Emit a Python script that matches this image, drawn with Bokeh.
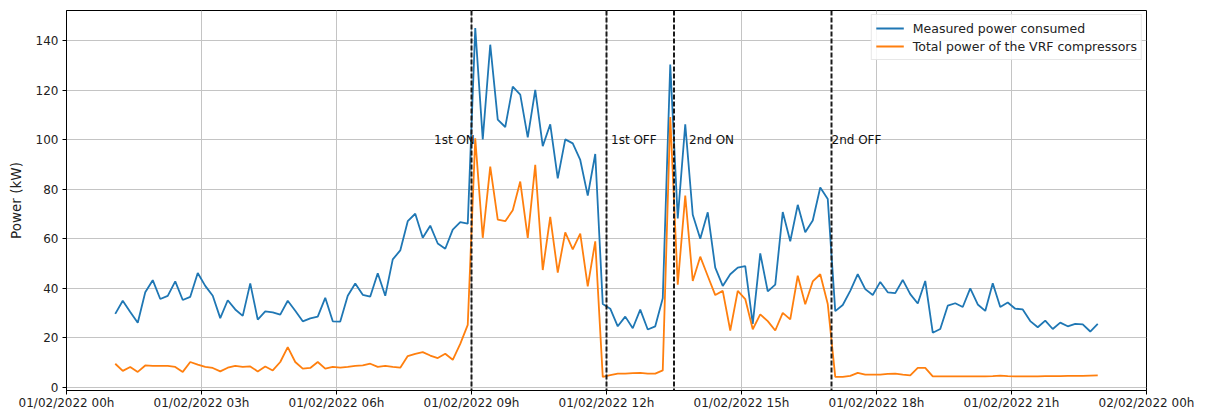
import pandas as pd
from bokeh.plotting import figure
from bokeh.models import (ColumnDataSource, Range1d, FixedTicker,
                          DatetimeTickFormatter, Span)
from bokeh.core.properties import value
from bokeh.embed import file_html
from bokeh.resources import INLINE

# ---------------- data ----------------
start_time = "2022-02-01 01:05"
sample_step = "10min"

measured_kw = [
    29.7, 35.0, 30.5, 26.1, 38.4, 43.3, 35.7, 37.0, 42.8, 35.3,
    36.6, 46.2, 41.0, 37.0, 28.0, 35.2, 31.5, 28.9, 42.0, 27.4,
    30.7, 30.3, 29.4, 35.0, 31.0, 26.7, 27.9, 28.6, 36.2, 26.7,
    26.6, 37.0, 42.0, 37.4, 36.7, 46.1, 37.0, 51.7, 55.3, 67.1,
    70.1, 60.4, 65.3, 58.1, 56.0, 63.7, 66.7, 66.1, 145.0, 100.1,
    138.3, 108.1, 105.1, 121.4, 118.2, 100.9, 120.1, 97.4, 106.2, 84.4,
    100.1, 98.5, 91.8, 77.4, 94.2, 33.7, 31.8, 24.7, 28.6, 23.9,
    31.4, 23.4, 24.7, 36.0, 130.3, 68.2, 106.2, 69.7, 60.0, 70.7,
    48.4, 41.0, 45.7, 48.4, 49.0, 25.7, 54.1, 38.8, 41.5, 70.8,
    59.0, 73.7, 62.6, 67.4, 80.7, 76.1, 30.8, 33.3, 39.0, 45.7,
    39.7, 37.3, 42.6, 38.4, 38.1, 43.4, 37.7, 33.9, 43.0, 22.1,
    23.6, 33.0, 34.0, 32.5, 40.0, 33.5, 30.9, 42.1, 32.5, 34.3,
    31.8, 31.5, 26.8, 24.3, 27.0, 23.6, 26.2, 24.7, 25.7, 25.5,
    22.6, 25.7,
]

compressors_kw = [
    9.6, 6.7, 8.3, 6.3, 8.9, 8.7, 8.7, 8.7, 8.3, 6.3,
    10.3, 9.2, 8.3, 7.9, 6.5, 8.0, 8.7, 8.3, 8.5, 6.5,
    8.5, 6.9, 10.3, 16.3, 10.3, 7.6, 7.9, 10.3, 7.6, 8.3,
    8.0, 8.3, 8.7, 8.9, 9.6, 8.3, 8.7, 8.3, 8.0, 12.7,
    13.6, 14.3, 12.9, 11.9, 13.6, 11.2, 17.6, 25.3, 100.5, 60.4,
    89.1, 67.7, 67.1, 71.5, 83.1, 60.4, 89.8, 47.4, 68.8, 46.4,
    62.6, 55.7, 62.1, 40.8, 59.0, 4.3, 5.0, 5.6, 5.6, 5.8,
    5.9, 5.6, 5.6, 6.9, 109.1, 41.5, 77.4, 43.0, 52.8, 45.0,
    37.3, 39.0, 23.0, 39.0, 35.7, 23.5, 29.5, 26.8, 23.0, 30.1,
    27.5, 45.1, 33.6, 42.8, 45.7, 33.7, 4.3, 4.3, 4.7, 5.9,
    5.2, 5.2, 5.2, 5.5, 5.6, 5.2, 4.9, 7.9, 7.9, 4.5,
    4.5, 4.5, 4.5, 4.5, 4.5, 4.5, 4.5, 4.6, 4.8, 4.6,
    4.5, 4.5, 4.5, 4.5, 4.6, 4.6, 4.6, 4.7, 4.7, 4.7,
    4.8, 4.9,
]

series_names = ["Measured power consumed", "Total power of the VRF compressors"]

event_times = ["2022-02-01 09:00", "2022-02-01 12:00",
               "2022-02-01 13:30", "2022-02-01 17:00"]
event_labels = ["1st ON", "1st OFF", "2nd ON", "2nd OFF"]
event_label_level = 100

y_tick_values = [0, 20, 40, 60, 80, 100, 120, 140]
x_start = "2022-02-01 00:00"
x_end = "2022-02-02 00:00"
x_tick_hours = [0, 3, 6, 9, 12, 15, 18, 21, 24]

# ---------------- layout / style ----------------
FONT = "DejaVu Sans"
BLUE = "#1f77b4"
ORANGE = "#ff7f0e"
label_offsets_min = [-50, 6, 20, 0]   # where each event text starts, relative to its line

def ms(ts):
    return pd.Timestamp(ts).value / 1e6

times = pd.date_range(start_time, periods=len(measured_kw), freq=sample_step)
src = ColumnDataSource(dict(t=times, measured=measured_kw, comp=compressors_kw))

p = figure(width=1198, height=412, x_axis_type="datetime",
           output_backend="svg", toolbar_location=None,
           x_range=Range1d(ms(x_start), ms(x_end)),
           y_range=Range1d(-1.2, 152.1),
           min_border_left=66, min_border_right=52,
           min_border_top=10, min_border_bottom=0)

p.background_fill_color = "white"
p.border_fill_color = "white"
p.outline_line_color = "black"
p.outline_line_width = 1

# grid
p.xgrid.grid_line_color = "#c4c4c4"
p.ygrid.grid_line_color = "#c4c4c4"
p.xgrid.grid_line_width = 1
p.ygrid.grid_line_width = 1

# axes
x_ticks = [ms(pd.Timestamp(x_start) + pd.Timedelta(hours=h)) for h in x_tick_hours]
p.xaxis.ticker = FixedTicker(ticks=x_ticks)
fmt = "%d/%m/%Y %Hh"
p.xaxis.formatter = DatetimeTickFormatter(
    microseconds=fmt, milliseconds=fmt, seconds=fmt, minsec=fmt, minutes=fmt,
    hourmin=fmt, hours=fmt, days=fmt, months=fmt, years=fmt)
p.yaxis.ticker = FixedTicker(ticks=y_tick_values)

for ax in (p.xaxis, p.yaxis):
    ax.major_label_text_font = FONT
    ax.major_label_text_font_size = "12px"
    ax.major_label_text_color = "#222222"
    ax.axis_line_color = "black"
    ax.major_tick_line_color = "black"
    ax.major_tick_out = 4
    ax.major_tick_in = 0
    ax.minor_tick_line_color = None
p.xaxis.major_label_standoff = 1
p.yaxis.major_label_standoff = 4

p.yaxis.axis_label = "Power (kW)"
p.yaxis.axis_label_text_font = FONT
p.yaxis.axis_label_text_font_size = "13.5px"
p.yaxis.axis_label_text_font_style = "normal"
p.yaxis.axis_label_text_color = "#222222"
p.yaxis.axis_label_standoff = 9

# series
p.line("t", "measured", source=src, line_color=BLUE, line_width=1.8,
       legend_label=series_names[0])
p.line("t", "comp", source=src, line_color=ORANGE, line_width=1.8,
       legend_label=series_names[1])

# event lines
for et in event_times:
    p.add_layout(Span(location=ms(et), dimension="height", line_color="#1a1a1a",
                      line_width=2, line_dash="5 2"))

label_x = [pd.Timestamp(et) + pd.Timedelta(minutes=o)
           for et, o in zip(event_times, label_offsets_min)]
lab_src = ColumnDataSource(dict(x=label_x, y=[event_label_level] * len(event_labels),
                                text=event_labels))
p.text("x", "y", text="text", source=lab_src, text_font=value(FONT),
       text_font_size=value("12px"), text_color="#111111",
       text_align="left", text_baseline="alphabetic")

# legend
lg = p.legend[0]
lg.location = "top_right"
lg.margin = 4
lg.padding = 4
lg.spacing = 0
lg.label_height = 18
lg.glyph_height = 18
lg.glyph_width = 28
lg.label_standoff = 9
lg.label_text_font = FONT
lg.label_text_font_size = "12.5px"
lg.label_text_color = "#222222"
lg.border_line_color = "#d0d0d0"
lg.border_line_width = 1
lg.background_fill_alpha = 0.85

open("out.html", "w").write(file_html(p, INLINE))
